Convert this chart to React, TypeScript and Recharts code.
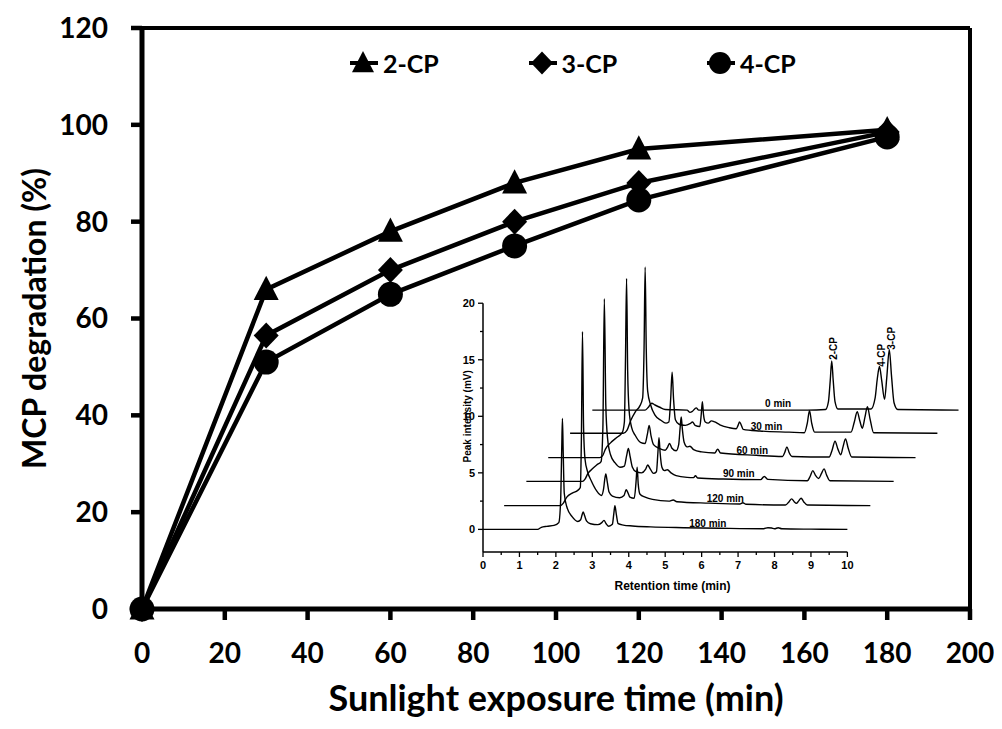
import React from 'react';
import { LineChart, Line, XAxis, YAxis, Label, Legend, ReferenceLine, ReferenceDot } from 'recharts';

// main chart: degradation (%) vs sunlight exposure time (min)
const times = [0, 30, 60, 90, 120, 180];
const cp2 = [0, 66, 78, 88, 95, 99];
const cp3 = [0, 56.5, 70, 80, 88, 98.5];
const cp4 = [0, 51, 65, 75, 84.5, 97.5];
const xTicks = [0, 20, 40, 60, 80, 100, 120, 140, 160, 180, 200];
const yTicks = [0, 20, 40, 60, 80, 100, 120];

// inset: HPLC chromatograms, [retention time, intensity] as plotted (stacked)
const trace180 = [
  [0, 0], [1.5, 0], [1.6, 0.18], [1.75, 0.27], [1.95, 0.35], [2.08, 0.6], [2.13, 2.5], [2.16, 7], [2.18, 9.8], [2.2, 7],
  [2.23, 3.2], [2.3, 2.0], [2.45, 1.1], [2.6, 0.7], [2.68, 0.85], [2.72, 1.3], [2.75, 1.55], [2.79, 1.2], [2.84, 0.75],
  [2.95, 0.5], [3.15, 0.42], [3.26, 0.6], [3.32, 0.8], [3.38, 0.5], [3.45, 0.28], [3.55, 0.45], [3.59, 1.4], [3.62, 2.1],
  [3.66, 1.3], [3.71, 0.5], [3.85, 0.38], [4.1, 0.3], [4.6, 0.22], [5.5, 0.15], [6.5, 0.1], [7.7, 0.06], [7.82, 0.15],
  [7.92, 0.12], [8.0, 0.05], [8.1, 0.15], [8.2, 0.05], [9, 0.02], [10, 0],
];
const trace120 = [
  [0.58, 2.1], [2.12, 2.1], [2.2, 2.3], [2.3, 2.85], [2.45, 3.2], [2.6, 3.45], [2.67, 3.7], [2.7, 8], [2.73, 17.5], [2.76, 9],
  [2.8, 6.2], [2.87, 5.1], [2.97, 4.3], [3.12, 3.4], [3.25, 3.0], [3.31, 3.6], [3.34, 4.4], [3.37, 4.9], [3.41, 4.2],
  [3.46, 3.3], [3.55, 2.95], [3.75, 2.8], [3.87, 3.0], [3.93, 3.5], [3.97, 3.3], [4.03, 2.85], [4.15, 2.75], [4.2, 4.2],
  [4.23, 5.5], [4.26, 4.0], [4.31, 3.1], [4.45, 2.85], [4.65, 2.65], [5.1, 2.5], [5.22, 2.6], [5.32, 2.45], [6.2, 2.32],
  [7.05, 2.24], [7.13, 2.36], [7.22, 2.22], [8.3, 2.15], [8.4, 2.45], [8.47, 2.7], [8.54, 2.45], [8.6, 2.3], [8.66, 2.5],
  [8.73, 2.75], [8.8, 2.45], [8.9, 2.15], [10.63, 2.1],
];
const trace90 = [
  [1.19, 4.25], [2.73, 4.25], [2.8, 4.45], [2.88, 4.95], [2.98, 5.3], [3.12, 5.7], [3.24, 6.0], [3.29, 9], [3.33, 20.4],
  [3.37, 11], [3.42, 8.0], [3.5, 6.6], [3.62, 5.9], [3.76, 5.5], [3.88, 5.6], [3.94, 6.5], [3.99, 7.15], [4.04, 6.4],
  [4.1, 5.5], [4.2, 5.1], [4.35, 5.0], [4.46, 5.3], [4.52, 5.7], [4.58, 5.4], [4.68, 4.95], [4.76, 5.1], [4.8, 6.8],
  [4.83, 8.1], [4.86, 6.8], [4.91, 5.5], [4.98, 5.2], [5.06, 5.28], [5.16, 5.0], [5.3, 4.75], [5.6, 4.6], [5.78, 4.58],
  [5.83, 4.75], [5.89, 4.55], [6.6, 4.45], [7.62, 4.4], [7.72, 4.68], [7.82, 4.42], [8.9, 4.3], [8.98, 4.7], [9.05, 5.2],
  [9.12, 4.8], [9.21, 4.5], [9.29, 4.95], [9.36, 5.35], [9.43, 4.8], [9.52, 4.3], [11.27, 4.25],
];
const trace60 = [
  [1.79, 6.35], [3.2, 6.35], [3.28, 6.5], [3.36, 7.1], [3.5, 7.65], [3.68, 8.15], [3.82, 8.55], [3.88, 9.5], [3.91, 15],
  [3.94, 22.2], [3.97, 14], [4.01, 10.5], [4.08, 9.0], [4.18, 8.3], [4.32, 7.7], [4.45, 7.6], [4.51, 8.4], [4.56, 9.2],
  [4.61, 8.3], [4.68, 7.5], [4.85, 7.15], [5.0, 7.0], [5.07, 7.3], [5.12, 7.6], [5.18, 7.2], [5.3, 6.95], [5.37, 7.5],
  [5.41, 9.0], [5.44, 9.94], [5.47, 8.9], [5.52, 7.7], [5.6, 7.3], [5.68, 7.35], [5.78, 7.05], [6.0, 6.85], [6.36, 6.75],
  [6.44, 7.1], [6.52, 6.75], [7.5, 6.55], [8.22, 6.45], [8.28, 6.8], [8.34, 7.3], [8.4, 6.8], [8.48, 6.45], [9.5, 6.4],
  [9.58, 7.0], [9.66, 7.8], [9.74, 7.1], [9.82, 6.6], [9.88, 7.3], [9.95, 8.0], [10.02, 7.2], [10.12, 6.4], [11.87, 6.35],
];
const trace30 = [
  [2.39, 8.5], [3.85, 8.5], [3.95, 8.75], [4.05, 9.6], [4.18, 10.4], [4.3, 10.9], [4.38, 11.6], [4.42, 16], [4.45, 23.2],
  [4.48, 16], [4.52, 12.2], [4.6, 11.0], [4.72, 10.1], [4.88, 9.65], [5.02, 9.4], [5.1, 9.5], [5.15, 11.5], [5.19, 13.9],
  [5.23, 11.5], [5.28, 9.7], [5.38, 9.3], [5.55, 9.2], [5.68, 9.35], [5.75, 9.5], [5.82, 9.2], [5.95, 9.1], [5.99, 10.2],
  [6.02, 11.3], [6.05, 10.2], [6.1, 9.5], [6.18, 9.4], [6.27, 9.6], [6.36, 9.5], [6.5, 9.25], [6.75, 9.0], [6.95, 8.9],
  [7.0, 9.2], [7.04, 9.5], [7.09, 9.2], [7.14, 8.85], [7.6, 8.7], [8.4, 8.6], [8.82, 8.55], [8.9, 9.4], [8.96, 10.5],
  [9.02, 9.4], [9.1, 8.6], [10.1, 8.6], [10.19, 9.5], [10.27, 10.4], [10.34, 9.6], [10.41, 8.95], [10.48, 9.9],
  [10.55, 10.85], [10.62, 9.8], [10.72, 8.55], [12.47, 8.5],
];
const trace0 = [
  [3.0, 10.55], [4.45, 10.55], [4.55, 10.85], [4.63, 11.15], [4.72, 11.0], [4.85, 10.8], [5.0, 10.6], [5.6, 10.55],
  [5.68, 10.35], [5.75, 10.45], [5.85, 10.75], [5.92, 10.55], [8.9, 10.55], [9.4, 10.6], [9.48, 11.3], [9.53, 13.2],
  [9.57, 14.9], [9.61, 13.2], [9.66, 11.3], [9.74, 10.65], [10.65, 10.65], [10.76, 11.6], [10.82, 13.3], [10.88, 14.4],
  [10.94, 13.2], [11.02, 11.5], [11.08, 13.4], [11.15, 15.9], [11.21, 13.6], [11.28, 11.2], [11.38, 10.6], [13.05, 10.55],
];
const traces = [trace180, trace120, trace90, trace60, trace30, trace0];
const traceNames = ['180 min', '120 min', '90 min', '60 min', '30 min', '0 min'];
const traceNameAt = [[6.17, 0.53], [6.65, 2.74], [7.02, 4.9], [7.39, 6.96], [7.78, 9.09], [8.1, 11.1]];
const peakNames = ['2-CP', '4-CP', '3-CP'];
const peakNameAt = [[9.62, 16.0], [10.93, 15.4], [11.2, 16.9]];
const insetXTicks = [0, 0.5, 1, 1.5, 2, 2.5, 3, 3.5, 4, 4.5, 5, 5.5, 6, 6.5, 7, 7.5, 8, 8.5, 9, 9.5, 10];
const insetYTicks = [0, 2.5, 5, 7.5, 10, 12.5, 15, 17.5, 20];

const mainData = times.map((t, i) => ({ time: t, cp2: cp2[i], cp3: cp3[i], cp4: cp4[i] }));
const insetData = traces.map(tr => tr.map(([t, v]) => ({ t, v })));

const MAIN_FONT = 'Lato, "Open Sans", sans-serif';
const INSET_FONT = '"Liberation Sans", Arial, sans-serif';

function Marker({ kind, cx, cy, s }: { kind: string; cx: number; cy: number; s: number }) {
  if (kind === 'triangle') {
    return <polygon points={`${cx},${cy - s * 0.55} ${cx - s / 2},${cy + s * 0.42} ${cx + s / 2},${cy + s * 0.42}`} fill="#000" />;
  }
  if (kind === 'diamond') {
    return <polygon points={`${cx},${cy - s * 0.52} ${cx + s * 0.5},${cy} ${cx},${cy + s * 0.52} ${cx - s * 0.5},${cy}`} fill="#000" />;
  }
  return <circle cx={cx} cy={cy} r={s / 2} fill="#000" />;
}

const makeDot = (kind: string) => (p: any) => (
  <Marker key={`${kind}-${p.index}`} kind={kind} cx={p.cx} cy={p.cy} s={25} />
);

const legendItems = [
  { name: '2-CP', kind: 'triangle' },
  { name: '3-CP', kind: 'diamond' },
  { name: '4-CP', kind: 'circle' },
];

function renderLegend() {
  return (
    <div style={{ position: 'relative', width: 1002, height: 40 }}>
      {legendItems.map((item, i) => (
        <div key={item.name} style={{ position: 'absolute', left: 350 + i * 178.5, top: 0, height: 40, display: 'flex', alignItems: 'center' }}>
          <svg width={28} height={28}>
            <line x1={0} y1={14} x2={28} y2={14} stroke="#000" strokeWidth={4} />
            <Marker kind={item.kind} cx={13} cy={14} s={22} />
          </svg>
          <span style={{ marginLeft: 5, fontFamily: MAIN_FONT, fontWeight: 700, fontSize: 25, color: '#000' }}>{item.name}</span>
        </div>
      ))}
    </div>
  );
}

function InsetXTick({ x, y, payload }: any) {
  const major = Number.isInteger(payload.value);
  return (
    <g>
      <line x1={x} y1={y} x2={x} y2={y + (major ? 5 : 3)} stroke="#000" strokeWidth={1.3} />
      {major && (
        <text x={x} y={y + 17} textAnchor="middle" fontSize={11} fontWeight={700} fontFamily={INSET_FONT} fill="#000">
          {payload.value}
        </text>
      )}
    </g>
  );
}

function InsetYTick({ x, y, payload }: any) {
  const major = Number.isInteger(payload.value);
  return (
    <g>
      <line x1={x} y1={y} x2={x - (major ? 5 : 3)} y2={y} stroke="#000" strokeWidth={1.3} />
      {major && (
        <text x={x - 8} y={y + 4} textAnchor="end" fontSize={11} fontWeight={700} fontFamily={INSET_FONT} fill="#000">
          {payload.value}
        </text>
      )}
    </g>
  );
}

const insetXTitle = (p: any) => {
  const vb = p.viewBox;
  const cx = vb.x + (vb.width * 5.2) / 13.2;
  return (
    <text x={cx} y={vb.y + 38} textAnchor="middle" fontSize={12} fontWeight={700} fontFamily={INSET_FONT} fill="#000">
      Retention time (min)
    </text>
  );
};

const insetYTitle = (p: any) => {
  const vb = p.viewBox;
  const cy = vb.y + (vb.height * (24 - 10)) / 26;
  const cx = vb.x + 25;
  return (
    <text x={cx} y={cy} transform={`rotate(-90, ${cx}, ${cy})`} textAnchor="middle" dominantBaseline="central"
      fontSize={10} fontWeight={700} fontFamily={INSET_FONT} fill="#000">
      Peak intensity (mV)
    </text>
  );
};

export default function App() {
  return (
    <div style={{ position: 'relative', width: 1002, height: 729, marginLeft: -8, marginTop: -8, background: '#fff' }}>
      <LineChart width={1002} height={729} data={mainData} margin={{ top: 28, right: 32, bottom: 10, left: 20 }}
        style={{ fontFamily: MAIN_FONT }}>
        <XAxis dataKey="time" type="number" domain={[0, 200]} ticks={xTicks} height={110}
          tickSize={11} tickMargin={23} interval={0}
          axisLine={{ stroke: '#000', strokeWidth: 5 }} tickLine={{ stroke: '#000', strokeWidth: 4.5 }}
          tick={{ fill: '#000', fontSize: 28, fontWeight: 700, fontFamily: MAIN_FONT }}>
          <Label value="Sunlight exposure time (min)" position="insideBottom" offset={8}
            style={{ fill: '#000', fontSize: 36, fontWeight: 700, fontFamily: MAIN_FONT }} />
        </XAxis>
        <YAxis type="number" domain={[0, 120]} ticks={yTicks} width={122}
          tickSize={11} tickMargin={23} interval={0}
          axisLine={{ stroke: '#000', strokeWidth: 5 }} tickLine={{ stroke: '#000', strokeWidth: 4.5 }}
          tick={{ fill: '#000', fontSize: 28, fontWeight: 700, fontFamily: MAIN_FONT }}>
          <Label value="MCP degradation (%)" angle={-90} position="insideLeft" offset={15}
            style={{ textAnchor: 'middle', fill: '#000', fontSize: 32, fontWeight: 700, fontFamily: MAIN_FONT }} />
        </YAxis>
        <ReferenceLine y={120} stroke="#000" strokeWidth={4} />
        <ReferenceLine x={200} stroke="#000" strokeWidth={4} />
        <Legend verticalAlign="middle" align="center" content={renderLegend}
          wrapperStyle={{ top: 43, left: 0, width: 1002, height: 40 }} />
        <Line dataKey="cp2" name="2-CP" stroke="#000" strokeWidth={4.5} dot={makeDot('triangle')} isAnimationActive={false} />
        <Line dataKey="cp3" name="3-CP" stroke="#000" strokeWidth={4.5} dot={makeDot('diamond')} isAnimationActive={false} />
        <Line dataKey="cp4" name="4-CP" stroke="#000" strokeWidth={4.5} dot={makeDot('circle')} isAnimationActive={false} />
      </LineChart>

      <div style={{ position: 'absolute', left: 400, top: 240 }}>
        <LineChart width={580} height={370} margin={{ top: 18, right: 16, bottom: 28, left: 43 }}>
          <XAxis dataKey="t" type="number" domain={[0, 13.2]} ticks={insetXTicks} height={30} allowDataOverflow
            interval={0} tickSize={0} tickMargin={0} axisLine={false} tickLine={false} tick={<InsetXTick />}>
            <Label content={insetXTitle} />
          </XAxis>
          <YAxis type="number" domain={[-2, 24]} ticks={insetYTicks} width={40} allowDataOverflow
            interval={0} tickSize={0} tickMargin={0} axisLine={false} tickLine={false} tick={<InsetYTick />}>
            <Label content={insetYTitle} />
          </YAxis>
          <ReferenceLine segment={[{ x: 0, y: -2 }, { x: 10, y: -2 }]} stroke="#000" strokeWidth={1.5} />
          <ReferenceLine segment={[{ x: 0, y: -2 }, { x: 0, y: 20 }]} stroke="#000" strokeWidth={1.5} />
          {insetData.map((d, i) => (
            <Line key={traceNames[i]} data={d} dataKey="v" type="monotone" stroke="#000" strokeWidth={1.4}
              dot={false} isAnimationActive={false} />
          ))}
          {traceNames.map((name, i) => (
            <ReferenceDot key={name} x={traceNameAt[i][0]} y={traceNameAt[i][1]} r={0}
              shape={(p: any) => (
                <text x={p.cx} y={p.cy} textAnchor="middle" dominantBaseline="central" fontSize={10}
                  fontWeight={700} fontFamily={INSET_FONT} fill="#000">{name}</text>
              )} />
          ))}
          {peakNames.map((name, i) => (
            <ReferenceDot key={name} x={peakNameAt[i][0]} y={peakNameAt[i][1]} r={0}
              shape={(p: any) => (
                <text x={p.cx} y={p.cy} transform={`rotate(-90, ${p.cx}, ${p.cy})`} textAnchor="middle"
                  dominantBaseline="central" fontSize={10} fontWeight={700} fontFamily={INSET_FONT} fill="#000">{name}</text>
              )} />
          ))}
        </LineChart>
      </div>
    </div>
  );
}
